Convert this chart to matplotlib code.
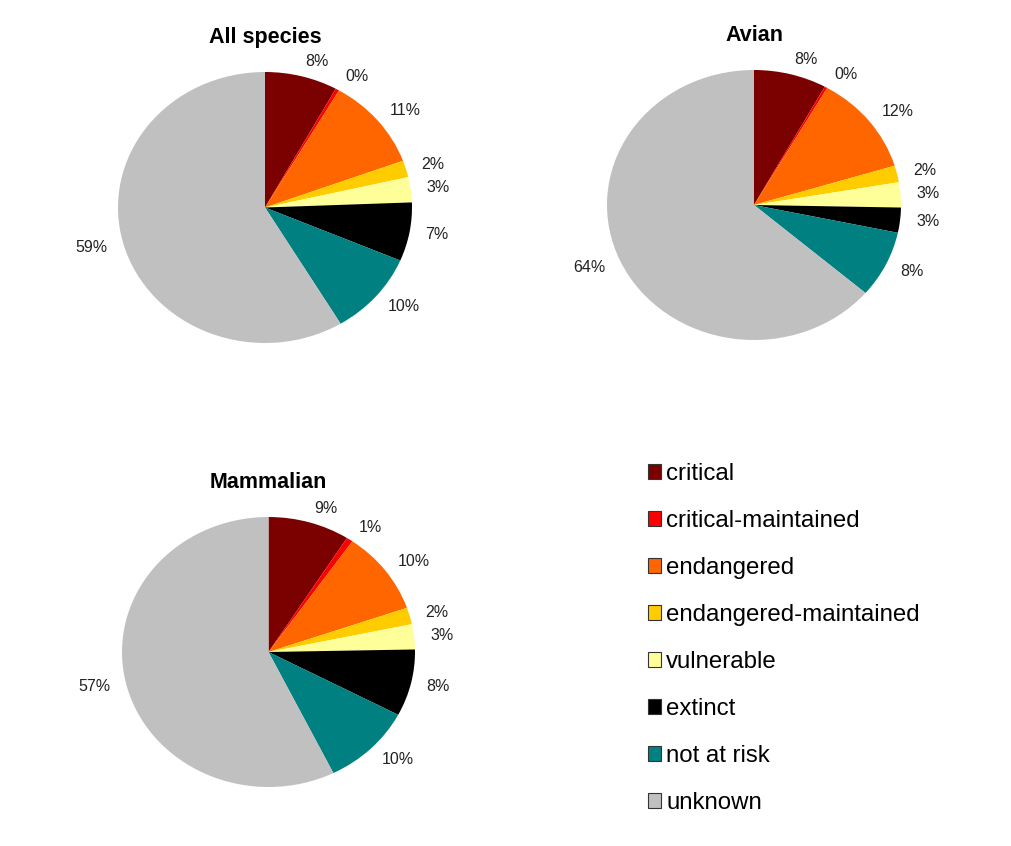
import matplotlib
matplotlib.use("Agg")
import matplotlib.pyplot as plt
from matplotlib.patches import Patch

plt.rcParams['font.family'] = ['Liberation Sans', 'DejaVu Sans']

categories = ['critical', 'critical-maintained', 'endangered', 'endangered-maintained',
              'vulnerable', 'extinct', 'not at risk', 'unknown']
colors = ['#7B0000', '#FF0000', '#FF6600', '#FFCC00', '#FFFF99', '#000000', '#008080', '#C0C0C0']

all_species = [8, 0.4, 11, 2, 3, 7, 10, 58.6]
avian = [8, 0.3, 12, 2, 3, 3, 8, 63.7]
mammalian = [9, 0.7, 10, 2, 3, 8, 10, 57.3]

W, H = 1011, 846
fig = plt.figure(figsize=(W / 100, H / 100), dpi=100)


def px_axes(left, top, right, bottom):
    return fig.add_axes([left / W, 1 - bottom / H, (right - left) / W, (bottom - top) / H])


panels = [
    ('All species', all_species, (118, 72, 412, 343)),
    ('Avian', avian, (607, 70, 901, 340)),
    ('Mammalian', mammalian, (122, 517, 415, 787)),
]

for title, vals, box in panels:
    ax = px_axes(*box)
    wedges, texts, autotexts = ax.pie(vals, colors=colors, startangle=90, counterclock=False,
                                      autopct='%.0f%%', pctdistance=1.11,
                                      wedgeprops=dict(linewidth=0),
                                      textprops=dict(fontsize=11.5, color='#222222'))
    # excel-style: label sits just outside the slice
    for t in autotexts:
        x, y = t.get_position()
        t.set_ha('left' if x >= 0 else 'right')
        t.set_va('center')
    ax.set_aspect('auto')
    ax.set_xlim(-1, 1)
    ax.set_ylim(-1, 1)
    ax.set_title(title, fontsize=15.5, fontweight='bold', pad=21)

handles = [Patch(facecolor=c, edgecolor='#333333', linewidth=0.8) for c in colors]
fig.legend(handles, categories, loc='upper left', bbox_to_anchor=(648 / W, 1 - 463 / H),
           frameon=False, fontsize=17.3, handlelength=0.55, handleheight=0.55,
           handletextpad=0.2, labelspacing=1.04, borderpad=0, borderaxespad=0)

fig.savefig('out.png', dpi=100, facecolor='white')
